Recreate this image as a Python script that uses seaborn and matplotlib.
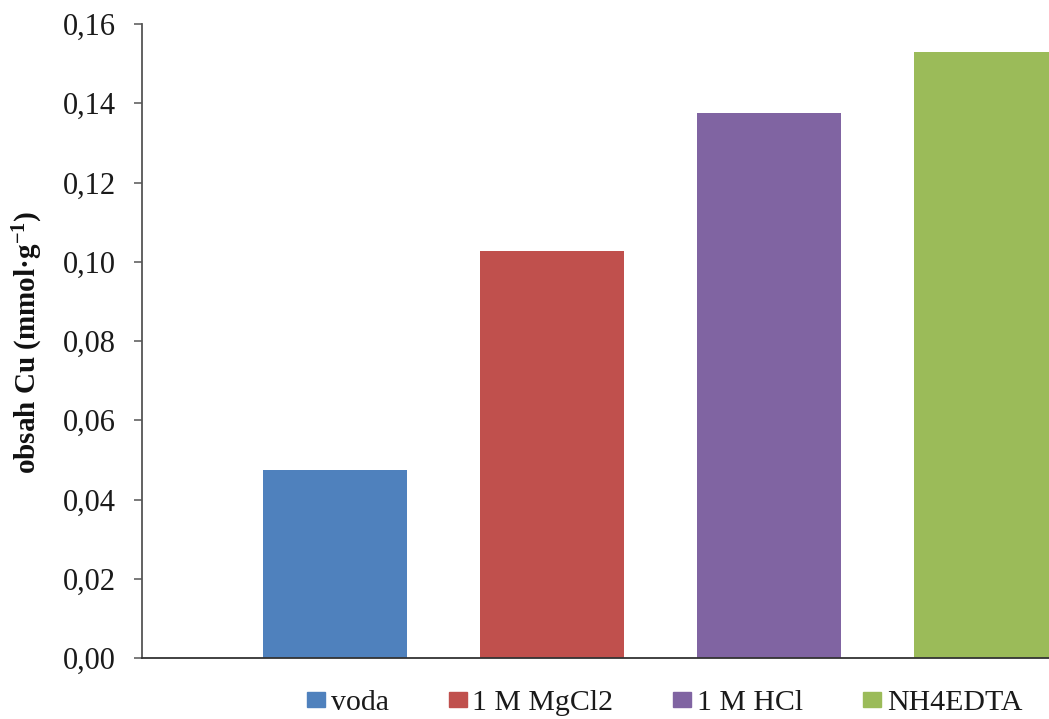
import matplotlib
matplotlib.use("Agg")
import matplotlib.pyplot as plt
from matplotlib.ticker import FuncFormatter
import seaborn as sns
import pandas as pd

# Extraction agents and the copper content they released
categories = ["voda", "1 M MgCl2", "1 M HCl", "NH4EDTA"]
cu_content = [0.0474, 0.1027, 0.1375, 0.1529]
colors = ["#4F81BD", "#C0504D", "#8064A2", "#9BBB59"]
y_ticks = [0.00, 0.02, 0.04, 0.06, 0.08, 0.10, 0.12, 0.14, 0.16]

sns.set_theme(style="white")
plt.rcParams["font.family"] = ["Liberation Serif", "DejaVu Serif"]
plt.rcParams["mathtext.fontset"] = "custom"
plt.rcParams["mathtext.rm"] = "Liberation Serif"
plt.rcParams["mathtext.bf"] = "Liberation Serif:bold"

df = pd.DataFrame({"agent": categories, "cu": cu_content})

W, H = 1049, 719
fig = plt.figure(figsize=(W / 100, H / 100), dpi=100)
fig.patch.set_facecolor("white")
ax = fig.add_axes([142 / W, (H - 658) / H, (W - 142) / W, (658 - 24) / H])

sns.barplot(data=df, x="agent", y="cu", hue="agent", palette=colors,
            order=categories, hue_order=categories, width=0.664,
            dodge=False, legend=False, ax=ax, saturation=1,
            edgecolor="none")

ax.set_xlim(-0.889, 3.290)
ax.set_ylim(0, 0.16)
ax.set_yticks(y_ticks)
ax.yaxis.set_major_formatter(FuncFormatter(lambda v, _: f"{v:.2f}".replace(".", ",")))
ax.set_xticks([])
ax.set_xlabel("")
ax.set_ylabel("")

for side in ("top", "right"):
    ax.spines[side].set_visible(False)
ax.spines["left"].set_color("#555555")
ax.spines["left"].set_linewidth(1.3)
ax.spines["bottom"].set_color("#333333")
ax.spines["bottom"].set_linewidth(1.3)
ax.tick_params(axis="y", which="major", direction="out", length=6, width=1.1,
               color="#555555", pad=13, labelsize=22, labelcolor="#1a1a1a", left=True)

fig.text(28 / W, 1 - 342 / H, r"obsah Cu (mmol·g$\mathbf{^{-1}}$)",
         rotation=90, ha="center", va="center", fontsize=21,
         fontweight="bold", color="#111111")

handles = [plt.Rectangle((0, 0), 1, 1, color=c) for c in colors]
fig.legend(handles, categories, loc="center left",
           bbox_to_anchor=(307 / W, 1 - 703 / H), ncol=4, frameon=False,
           fontsize=21.5, handlelength=0.6, handleheight=0.42,
           handletextpad=0.2, columnspacing=2.0, borderpad=0,
           borderaxespad=0, labelcolor="#1a1a1a")

fig.savefig("out.png", dpi=100, facecolor="white")
